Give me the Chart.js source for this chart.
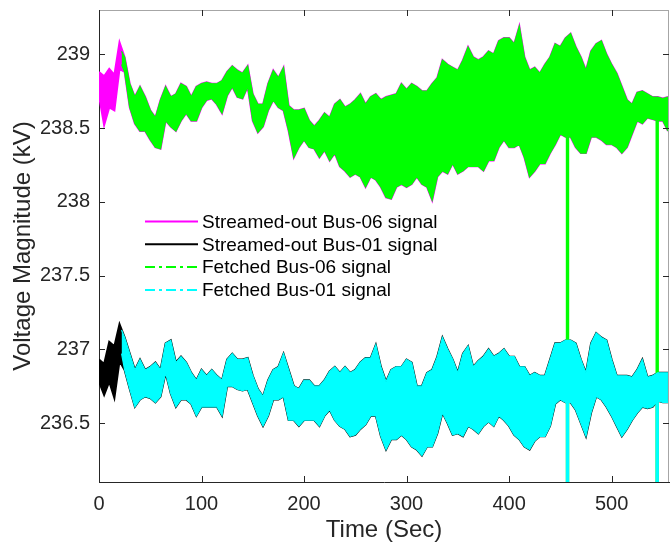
<!DOCTYPE html>
<html>
<head>
<meta charset="utf-8">
<script src="https://cdn.jsdelivr.net/npm/chart.js@4.4.1/dist/chart.umd.min.js"></script>
<style>
  html, body { margin: 0; padding: 0; background: #ffffff; }
  #wrap { width: 670px; height: 549px; }
</style>
</head>
<body>
<div id="wrap"><canvas id="c" width="670" height="549"></canvas></div>
<script>
// ---------------- data ----------------
// sampling grid of the envelopes, seconds (0 .. 555, every 5 s)
const TIME_STEP = 5;
const TIME = Array.from({ length: 112 }, (_, i) => i * TIME_STEP);

// Bus-06 envelope (kV): upper and lower edge of the oscillating signal
const BUS06_HI = [
  238.88, 238.85, 238.90, 238.86, 239.08, 238.98, 238.80, 238.71, 238.78, 238.71,
  238.62, 238.57, 238.69, 238.78, 238.71, 238.73, 238.80, 238.78, 238.71, 238.78,
  238.80, 238.81, 238.80, 238.80, 238.82, 238.88, 238.92, 238.89, 238.87, 238.92,
  238.73, 238.66, 238.66, 238.80, 238.89, 238.84, 238.91, 238.65, 238.62, 238.62,
  238.63, 238.55, 238.51, 238.55, 238.60, 238.57, 238.66, 238.69, 238.64, 238.66,
  238.69, 238.73, 238.66, 238.71, 238.73, 238.69, 238.71, 238.72, 238.73, 238.80,
  238.76, 238.80, 238.78, 238.75, 238.75, 238.80, 238.84, 238.96, 238.93, 238.91,
  238.89, 238.96, 239.05, 238.98, 238.96, 238.98, 239.02, 239.00, 239.09, 239.11,
  239.11, 239.07, 239.19, 238.98, 238.89, 238.91, 238.87, 238.93, 238.98, 239.07,
  239.05, 239.11, 239.14, 239.05, 238.98, 238.89, 239.02, 239.07, 239.09, 239.00,
  238.93, 238.87, 238.78, 238.69, 238.66, 238.74, 238.75, 238.73, 238.71, 238.71,
  238.70, 238.71
];
const BUS06_LO = [
  238.72, 238.52, 238.64, 238.62, 238.90, 238.88, 238.64, 238.53, 238.48, 238.48,
  238.42, 238.37, 238.36, 238.55, 238.51, 238.48, 238.55, 238.60, 238.55, 238.55,
  238.64, 238.69, 238.70, 238.66, 238.60, 238.72, 238.78, 238.71, 238.70, 238.78,
  238.55, 238.47, 238.51, 238.62, 238.69, 238.64, 238.62, 238.48, 238.30, 238.37,
  238.42, 238.37, 238.36, 238.30, 238.35, 238.28, 238.33, 238.24, 238.21, 238.17,
  238.19, 238.17, 238.10, 238.17, 238.15, 238.10, 238.03, 238.02, 238.10, 238.12,
  238.10, 238.12, 238.17, 238.12, 238.10, 238.01, 238.17, 238.21, 238.19, 238.26,
  238.19, 238.21, 238.24, 238.24, 238.24, 238.21, 238.28, 238.28, 238.37, 238.42,
  238.37, 238.37, 238.39, 238.30, 238.17, 238.21, 238.26, 238.26, 238.33, 238.39,
  238.46, 238.44, 238.44, 238.37, 238.33, 238.33, 238.44, 238.44, 238.42, 238.39,
  238.39, 238.37, 238.33, 238.37, 238.46, 238.55, 238.53, 238.57, 238.56, 238.55,
  238.55, 238.48
];

// Bus-01 envelope (kV)
const BUS01_HI = [
  236.93, 236.90, 237.05, 237.02, 237.17, 237.08, 236.97, 236.86, 236.93, 236.86,
  236.88, 236.91, 236.86, 237.04, 237.06, 236.91, 236.95, 236.91, 236.84, 236.79,
  236.86, 236.82, 236.86, 236.82, 236.79, 236.93, 236.97, 236.93, 236.93, 236.94,
  236.82, 236.73, 236.68, 236.79, 236.86, 236.88, 236.97, 236.86, 236.75, 236.73,
  236.79, 236.79, 236.75, 236.75, 236.79, 236.85, 236.88, 236.84, 236.88, 236.84,
  236.86, 236.91, 236.94, 236.94, 237.03, 236.88, 236.78, 236.86, 236.88, 236.88,
  236.93, 236.91, 236.75, 236.75, 236.84, 236.86, 236.95, 237.08, 237.00, 236.93,
  236.84, 236.97, 237.02, 236.88, 236.92, 236.95, 237.00, 236.95, 236.97, 237.00,
  236.95, 236.95, 236.88, 236.88, 236.82, 236.84, 236.82, 236.82, 236.93, 237.04,
  237.04, 237.06, 237.06, 237.04, 236.93, 236.84, 237.04, 237.11, 237.08, 237.06,
  236.93, 236.82, 236.82, 236.82, 236.81, 236.86, 236.93, 236.81, 236.82, 236.84,
  236.84, 236.84
];
const BUS01_LO = [
  236.78, 236.69, 236.78, 236.67, 236.92, 236.86, 236.73, 236.61, 236.66, 236.68,
  236.67, 236.64, 236.68, 236.84, 236.70, 236.61, 236.66, 236.66, 236.63, 236.55,
  236.61, 236.61, 236.61, 236.61, 236.55, 236.75, 236.75, 236.73, 236.72, 236.73,
  236.64, 236.55, 236.48, 236.55, 236.66, 236.66, 236.68, 236.52, 236.52, 236.48,
  236.52, 236.52, 236.52, 236.48, 236.55, 236.59, 236.52, 236.48, 236.46, 236.41,
  236.42, 236.46, 236.49, 236.55, 236.55, 236.41, 236.32, 236.39, 236.39, 236.42,
  236.39, 236.34, 236.32, 236.28, 236.34, 236.34, 236.43, 236.57, 236.50, 236.42,
  236.43, 236.41, 236.48, 236.46, 236.43, 236.48, 236.51, 236.48, 236.55, 236.52,
  236.48, 236.42, 236.39, 236.34, 236.32, 236.38, 236.41, 236.41, 236.48, 236.63,
  236.66, 236.64, 236.64, 236.59, 236.50, 236.41, 236.57, 236.68, 236.66, 236.61,
  236.55, 236.48, 236.41, 236.46, 236.52, 236.57, 236.61, 236.60, 236.61, 236.65,
  236.64, 236.64
];

// fetched signals: start time and first values, and the two drop-outs
const FETCH_START = 22;
const FETCH06_START = [239.02, 238.93];   // [hi, lo]
const FETCH01_START = [237.13, 236.97];   // [hi, lo]
const DROP_TIMES = [457, 544.5];
const DROP_LEVEL = 235.5;                  // below the visible axis range

const SERIES_NAMES = [
  'Streamed-out Bus-06 signal',
  'Streamed-out Bus-01 signal',
  'Fetched Bus-06 signal',
  'Fetched Bus-01 signal'
];
const X_TICKS = [0, 100, 200, 300, 400, 500];
const Y_TICKS = [236.5, 237, 237.5, 238, 238.5, 239];
const X_RANGE = [0, 556];
const Y_RANGE = [236.1, 239.3];
const X_TITLE = 'Time (Sec)';
const Y_TITLE = 'Voltage Magnitude (kV)';

// ---------------- build datasets ----------------
function streamed(arr) {
  return TIME.map((t, i) => ({ x: t, y: arr[i] }));
}
function fetched(arr, startVal) {
  const pts = [{ x: FETCH_START, y: startVal }];
  TIME.forEach((t, i) => { if (t > FETCH_START) pts.push({ x: t, y: arr[i] }); });
  return pts;
}
function nearest(arr, t) {
  let best = 0;
  TIME.forEach((tt, i) => { if (Math.abs(tt - t) < Math.abs(TIME[best] - t)) best = i; });
  return arr[best];
}
function drops(hiArr) {
  // each drop-out: vertical fall of the fetched signal from its level down below the axis
  return DROP_TIMES.map(t => [{ x: t, y: nearest(hiArr, t) }, { x: t, y: DROP_LEVEL }]);
}

const COLORS = ['#ff00ff', '#000000', '#00ff00', '#00ffff'];
const STREAM_W = 2.0, FETCH_W = 1.2, DROP_W = 3.4;

function pair(label, color, width, order, hi, lo) {
  const common = { borderColor: color, backgroundColor: color, borderWidth: width, pointRadius: 0,
                   tension: 0, order: order };
  return [
    Object.assign({ label: label, data: hi, fill: '+1' }, common),
    Object.assign({ label: label + ' (lower)', data: lo, fill: false }, common)
  ];
}
function dropSets(label, color, order, hiArr) {
  return drops(hiArr).map(d => ({ label: label + ' drop', data: d, borderColor: color,
    backgroundColor: color, borderWidth: DROP_W, pointRadius: 0, fill: false, order: order,
    borderCapStyle: 'butt' }));
}

const datasets = [].concat(
  pair(SERIES_NAMES[0], COLORS[0], STREAM_W, 4, streamed(BUS06_HI), streamed(BUS06_LO)),
  pair(SERIES_NAMES[1], COLORS[1], STREAM_W, 3, streamed(BUS01_HI), streamed(BUS01_LO)),
  pair(SERIES_NAMES[2], COLORS[2], FETCH_W, 2, fetched(BUS06_HI, FETCH06_START[0]), fetched(BUS06_LO, FETCH06_START[1])),
  dropSets(SERIES_NAMES[2], COLORS[2], 2, BUS06_LO),
  pair(SERIES_NAMES[3], COLORS[3], FETCH_W, 1, fetched(BUS01_HI, FETCH01_START[0]), fetched(BUS01_LO, FETCH01_START[1])),
  dropSets(SERIES_NAMES[3], COLORS[3], 1, BUS01_LO)
);

const FONT = '"Liberation Sans", Arial, Helvetica, sans-serif';
const AX = '#262626';

// inside tick marks, box lines and legend
const decor = {
  id: 'decor',
  afterDatasetsDraw(chart) {
    const ctx = chart.ctx, a = chart.chartArea;
    const xs = chart.scales.x, ys = chart.scales.y;
    ctx.save();
    ctx.strokeStyle = '#a6a6a6';
    ctx.lineWidth = 1;
    ctx.beginPath();
    ctx.moveTo(a.left, a.top + 0.5); ctx.lineTo(a.right, a.top + 0.5);
    ctx.moveTo(a.right - 0.5, a.top); ctx.lineTo(a.right - 0.5, a.bottom);
    ctx.stroke();
    ctx.strokeStyle = AX;
    ctx.beginPath();
    const TL = 6;
    X_TICKS.forEach(v => {
      const px = Math.round(xs.getPixelForValue(v)) + 0.5;
      ctx.moveTo(px, a.bottom); ctx.lineTo(px, a.bottom - TL);
      ctx.moveTo(px, a.top); ctx.lineTo(px, a.top + TL);
    });
    Y_TICKS.forEach(v => {
      const py = Math.round(ys.getPixelForValue(v)) + 0.5;
      ctx.moveTo(a.left, py); ctx.lineTo(a.left + TL, py);
      ctx.moveTo(a.right, py); ctx.lineTo(a.right - TL, py);
    });
    ctx.stroke();
    // legend
    const lx0 = 145, lx1 = 198, tx = 202, y0 = 221.5, dy = 22.8;
    ctx.font = '19px ' + FONT;
    ctx.textBaseline = 'middle';
    ctx.textAlign = 'left';
    SERIES_NAMES.forEach((name, i) => {
      const y = y0 + i * dy;
      ctx.strokeStyle = COLORS[i];
      ctx.lineWidth = 2;
      ctx.setLineDash(i >= 2 ? [10, 4, 3, 4] : []);
      ctx.beginPath(); ctx.moveTo(lx0, y); ctx.lineTo(lx1, y); ctx.stroke();
      ctx.setLineDash([]);
      ctx.fillStyle = '#000000';
      ctx.fillText(name, tx, y + 1);
    });
    ctx.restore();
  }
};

new Chart(document.getElementById('c'), {
  type: 'line',
  data: { datasets: datasets },
  options: {
    responsive: false,
    animation: false,
    parsing: false,
    normalized: true,
    events: [],
    layout: { padding: { top: 10, right: 1, bottom: 0, left: 0 } },
    plugins: { legend: { display: false }, tooltip: { enabled: false } },
    scales: {
      x: {
        type: 'linear', min: X_RANGE[0], max: X_RANGE[1],
        afterFit(s) { s.height = 67; s.paddingLeft = 0; s.paddingRight = 0; },
        afterBuildTicks(s) { s.ticks = X_TICKS.map(v => ({ value: v })); },
        grid: { display: false, drawTicks: false },
        border: { display: true, color: AX, width: 1 },
        ticks: { color: AX, font: { family: FONT, size: 20 }, padding: 10, maxRotation: 0,
                 callback: v => String(v) },
        title: { display: true, text: X_TITLE, color: AX, font: { family: FONT, size: 24 },
                 padding: { top: 0, bottom: 4 } }
      },
      y: {
        type: 'linear', min: Y_RANGE[0], max: Y_RANGE[1],
        afterFit(s) { s.width = 99; s.paddingTop = 0; s.paddingBottom = 0; },
        afterBuildTicks(s) { s.ticks = Y_TICKS.map(v => ({ value: v })); },
        grid: { display: false, drawTicks: false },
        border: { display: true, color: AX, width: 1 },
        ticks: { color: AX, font: { family: FONT, size: 20 }, padding: 9,
                 callback: v => String(v) },
        title: { display: true, text: Y_TITLE, color: AX, font: { family: FONT, size: 24 },
                 padding: { top: 9, bottom: 0 } }
      }
    }
  },
  plugins: [decor]
});
</script>
</body>
</html>
